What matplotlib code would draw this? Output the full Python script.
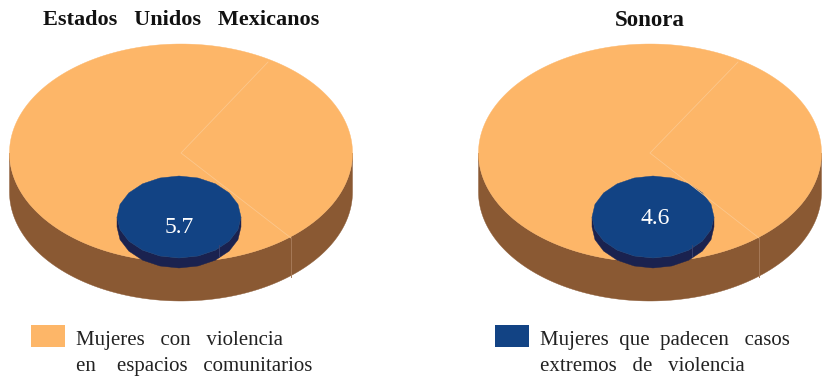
import numpy as np
import matplotlib
matplotlib.use("Agg")
import matplotlib.pyplot as plt
from matplotlib.patches import Polygon, Rectangle

titulos = ["Estados   Unidos   Mexicanos", "Sonora"]
valores = [5.7, 4.6]
leyenda = ["Mujeres   con   violencia\nen    espacios   comunitarios",
           "Mujeres  que  padecen   casos\nextremos   de   violencia"]

NARANJA = "#fdb668"
CAFE = "#8a5933"
AZUL = "#124384"
AZUL_OSC = "#1a224f"

plt.rcParams["font.family"] = ["Liberation Serif", "DejaVu Serif"]

fig = plt.figure(figsize=(8.24, 3.77), dpi=100)
ax = fig.add_axes([0, 0, 1, 1])
ax.set_xlim(0, 824)
ax.set_ylim(377, 0)
ax.axis("off")


def elipse(cx, cy, rx, ry, n=240):
    t = np.linspace(0, 2 * np.pi, n, endpoint=False)
    return np.column_stack([cx + rx * np.cos(t), cy + ry * np.sin(t)])


def costado(cx, cy, rx, ry, alto, n=120):
    # la mitad de abajo de la elipse, bajada "alto" pixeles
    t = np.linspace(0, np.pi, n)
    arriba = np.column_stack([cx + rx * np.cos(t), cy + ry * np.sin(t)])
    abajo = arriba[::-1] + [0, alto]
    return np.vstack([arriba, abajo])


def pastel(cx, cy, valor, titulo, tam_titulo, dx_disco, rx_disco, seam1, seam2, seam3, txt_x, txt_y):
    rx, ry, alto = 171.5, 109, 39
    ax.add_patch(Polygon(costado(cx, cy, rx, ry, alto), fc=CAFE, ec=CAFE, lw=0.3))
    ax.add_patch(Polygon(elipse(cx, cy, rx, ry), fc=NARANJA, ec=NARANJA, lw=0.3))
    # lineas de separacion del pastel
    ax.plot([seam1[0], cx, seam2[0]], [seam1[1], cy, seam2[1]], color="#fcc78c", lw=0.6)
    ax.plot([seam2[0], seam2[0]], [seam2[1], seam2[1] + alto], color="#a67a58", lw=0.7)

    # disco azul
    dcx, dcy = cx + dx_disco, 217
    ry_d, alto_d = 41, 10
    ax.add_patch(Polygon(costado(dcx, dcy, rx_disco, ry_d, alto_d, n=11), fc=AZUL_OSC, ec=AZUL_OSC, lw=0.3))
    ax.add_patch(Polygon(elipse(dcx, dcy, rx_disco, ry_d, n=20), fc=AZUL, ec=AZUL, lw=0.3))
    ax.plot([seam3, seam3], [dcy + 28, dcy + 40], color="#3d4470", lw=0.6)

    ax.text(txt_x, txt_y, f"{valor}", color="white", fontsize=17, ha="center", va="center")
    ax.text(cx, 20, titulo, fontsize=tam_titulo, fontweight="bold", ha="center", va="center", color="#111111")


pastel(181, 153, valores[0], titulos[0], 16, -2, 62, (268, 62), (291, 238), 219, 179, 227.5)
pastel(650, 153, valores[1], titulos[1], 16.5, 3, 61, (738, 62), (759, 238), 692, 655, 219)

ax.add_patch(Rectangle((31, 325), 34, 22, fc=NARANJA, ec="none"))
ax.text(76, 353.5, leyenda[0], fontsize=15, va="center", ha="left", linespacing=1.44, color="#222222")
ax.add_patch(Rectangle((495, 325), 34, 22, fc=AZUL, ec="none"))
ax.text(540, 353.5, leyenda[1], fontsize=15, va="center", ha="left", linespacing=1.44, color="#222222")

fig.savefig("out.png", dpi=100)
